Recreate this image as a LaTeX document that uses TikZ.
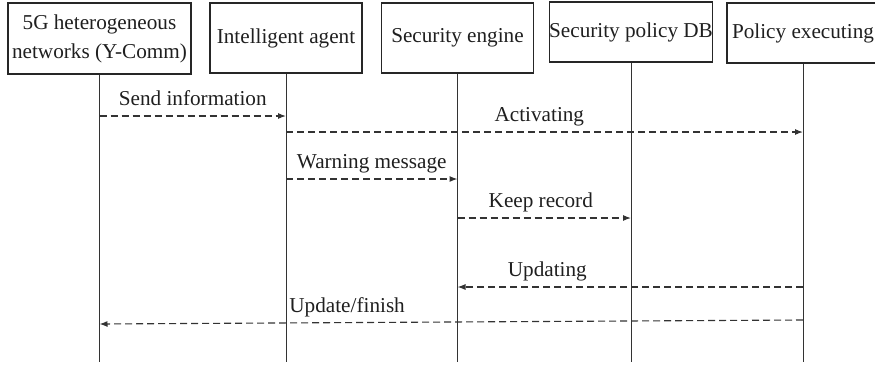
\documentclass[tikz,border=0pt]{standalone}
\usepackage{fontspec}
\setmainfont{Liberation Serif}
\usetikzlibrary{arrows.meta}
\begin{document}
\begin{tikzpicture}[x=0.5pt,y=-0.5pt,
  actor/.style={draw=black!85, line width=0.55pt, align=center, inner sep=0pt,
    font=\fontsize{10.6}{14.5}\selectfont, text=black!88},
  lifeline/.style={draw=black!80, line width=0.5pt},
  msg/.style={draw=black!80, line width=0.55pt, dash pattern=on 3.5pt off 2pt,
    -{Latex[length=4pt,width=3pt]}},
  lbl/.style={font=\fontsize{10.6}{13}\selectfont, text=black!88, anchor=base,
    yshift=5.3pt, inner sep=0pt}]
\clip (0,0) rectangle (875,366);

% participants
\node[actor, minimum width=91.5pt, minimum height=35.5pt] (net) at (99.5,38.5)
  {5G heterogeneous\\networks (Y-Comm)};
\node[actor, minimum width=76pt, minimum height=35pt] (agent) at (286,38) {Intelligent agent};
\node[actor, minimum width=76pt, minimum height=35pt] (engine) at (457.5,38) {Security engine};
\node[actor, minimum width=80pt, minimum height=30pt] (db) at (631,32) {Security policy DB};
\node[actor, minimum width=76pt, minimum height=30pt] (exec) at (803,33) {Policy executing};

% lifelines
\coordinate (bottom) at (0,362);
\foreach \p in {net,agent,engine,db,exec}
  \draw[lifeline] (\p.south) -- (\p.south |- bottom);

% message levels
\coordinate (m1) at (0,116);
\coordinate (m2) at (0,132);
\coordinate (m3) at (0,179);
\coordinate (m4) at (0,218);
\coordinate (m5) at (0,287);
\coordinate (m6a) at (0,320);
\coordinate (m6b) at (0,324);

% messages
\draw[msg] (net.south |- m1) -- node[lbl] {Send information} (agent.south |- m1);
\draw[msg] (agent.south |- m2) -- node[lbl, pos=0.49] {Activating} (exec.south |- m2);
\draw[msg] (agent.south |- m3) -- node[lbl] {Warning message} (engine.south |- m3);
\draw[msg] (engine.south |- m4) -- node[lbl, pos=0.48] {Keep record} (db.south |- m4);
\draw[msg] (exec.south |- m5) -- node[lbl, pos=0.74] {Updating} (engine.south |- m5);
\draw[msg] (exec.south |- m6a) -- node[lbl, pos=0.648] {Update/finish} (net.south |- m6b);
\end{tikzpicture}
\end{document}
